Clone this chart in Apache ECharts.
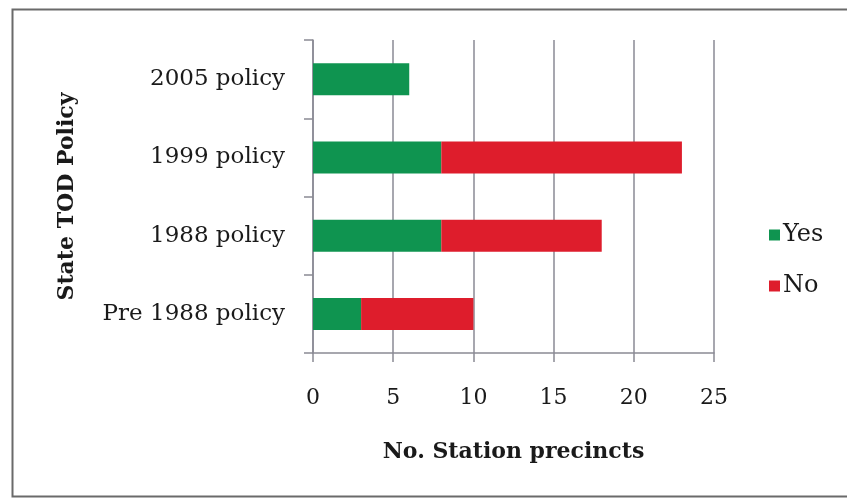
<!DOCTYPE html>
<html>
<head>
<meta charset="utf-8">
<script src="https://cdn.jsdelivr.net/npm/echarts@6/dist/echarts.min.js"></script>
<style>
html,body{margin:0;padding:0;background:#fff;}
#chart{width:847px;height:499px;}
</style>
</head>
<body>
<div id="chart"></div>
<script>
const categories = ['Pre 1988 policy', '1988 policy', '1999 policy', '2005 policy'];
const yesValues = [3, 8, 8, 6];
const noValues = [7, 10, 15, 0];
const seriesNames = ['Yes', 'No'];
const xTicks = { min: 0, max: 25, interval: 5 };
const xAxisTitle = 'No. Station precincts';
const yAxisTitle = 'State TOD Policy';

const serif = 'DejaVu Serif';
const textColor = '#1a1a1a';
const gridColor = '#8a8a94';
const chart = echarts.init(document.getElementById('chart'));
chart.setOption({
  animation: false,
  backgroundColor: '#ffffff',
  graphic: [{
    type: 'rect',
    shape: { x: 12.5, y: 9.5, width: 860, height: 487 },
    style: { fill: 'none', stroke: '#6a6a6a', lineWidth: 2 }
  }],
  grid: { left: 313, top: 40, width: 401, height: 313, containLabel: false },
  legend: {
    orient: 'vertical',
    left: 764,
    top: 218,
    itemWidth: 11,
    itemHeight: 11,
    itemGap: 27,
    icon: 'rect',
    textStyle: { fontFamily: serif, fontSize: 24, color: textColor, padding: [0, 0, 0, -2] },
    data: seriesNames
  },
  xAxis: {
    type: 'value',
    min: xTicks.min,
    max: xTicks.max,
    interval: xTicks.interval,
    name: xAxisTitle,
    nameLocation: 'middle',
    nameGap: 88,
    nameTextStyle: { fontFamily: serif, fontSize: 22, fontWeight: 'bold', color: textColor },
    axisLine: { show: true, lineStyle: { color: gridColor, width: 1.5 } },
    axisTick: { show: true, length: 9, lineStyle: { color: gridColor, width: 1.5 } },
    axisLabel: { margin: 34, fontFamily: serif, fontSize: 22, color: textColor },
    splitLine: { show: true, lineStyle: { color: gridColor, width: 1.5 } }
  },
  yAxis: {
    type: 'category',
    data: categories,
    name: yAxisTitle,
    nameLocation: 'middle',
    nameGap: 235,
    nameRotate: 90,
    nameTextStyle: { fontFamily: serif, fontSize: 22, fontWeight: 'bold', color: textColor },
    axisLine: { show: true, lineStyle: { color: gridColor, width: 1.5 } },
    axisTick: { show: true, length: 9, lineStyle: { color: gridColor, width: 1.5 } },
    axisLabel: { margin: 28, fontFamily: serif, fontSize: 23, color: textColor },
    splitLine: { show: false }
  },
  series: [
    {
      name: seriesNames[0], type: 'bar', stack: 'total', data: yesValues,
      barWidth: 32, itemStyle: { color: '#0f9450' }
    },
    {
      name: seriesNames[1], type: 'bar', stack: 'total', data: noValues,
      barWidth: 32, itemStyle: { color: '#de1d2c' }
    }
  ]
});
</script>
</body>
</html>
